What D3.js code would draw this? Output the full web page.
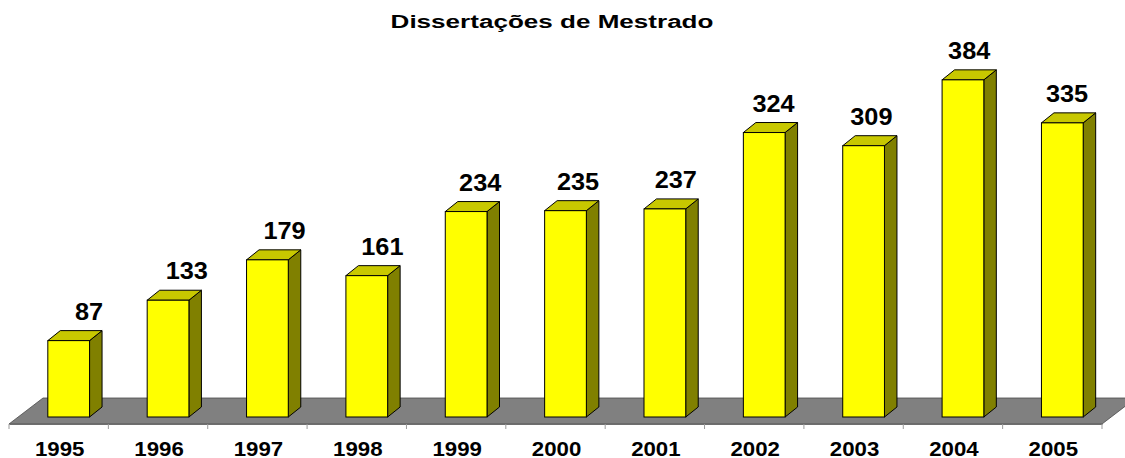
<!DOCTYPE html>
<html>
<head>
<meta charset="utf-8">
<script src="https://cdn.jsdelivr.net/npm/d3@7"></script>
<style>
  body { margin: 0; background: #fff; }
  svg { display: block; font-family: "Liberation Sans", Arial, sans-serif; }
</style>
</head>
<body>
<div id="chart"></div>
<script>
var title = "Dissertações de Mestrado";
var years = ["1995", "1996", "1997", "1998", "1999", "2000", "2001", "2002", "2003", "2004", "2005"];
var counts = [87, 133, 179, 161, 234, 235, 237, 324, 309, 384, 335];

var width = 1125, height = 458;

// floor / 3d geometry
var floorLeft = 9, floorRight = 1102, floorY = 424;
var floorDepth = [34, -26];
var barShift = [10, -7];     // front of bars sits a bit behind floor front edge
var barDepth = [12.5, -10];
var barFrac = 0.42;

var svg = d3.select("#chart")
  .append("svg")
  .attr("width", width)
  .attr("height", height);

var x = d3.scaleBand().domain(years).range([floorLeft, floorRight]);
var y = d3.scaleLinear().domain([0, 400]).range([floorY + barShift[1], floorY + barShift[1] - 351.2]);
// value labels drift slightly left along the row (3d perspective in original)
var labelX = d3.scaleLinear().domain([0, years.length - 1]).range([89, 1067]);

// text in the original is stretched horizontally
function stretchedText(sel, cx, cy, size, sx, str)
{
  var g = sel.append("g")
    .attr("transform", "translate(" + cx + "," + cy + ") scale(" + sx + ",1)");
  return g.append("text")
    .attr("x", 0)
    .attr("y", 0)
    .attr("text-anchor", "middle")
    .attr("font-size", size)
    .attr("font-weight", "bold")
    .text(str);
}

// floor
var floor = [
  [floorLeft, floorY],
  [floorRight, floorY],
  [floorRight + floorDepth[0], floorY + floorDepth[1]],
  [floorLeft + floorDepth[0], floorY + floorDepth[1]]
];
svg.append("path")
  .attr("d", "M" + floor.join("L") + "Z")
  .attr("fill", "#808080")
  .attr("stroke", "#4a4a4a")
  .attr("stroke-width", 0.8);

// axis line + ticks
var axis = svg.append("g")
  .attr("transform", "translate(0," + floorY + ")")
  .call(d3.axisBottom(x).tickSize(0).tickFormat(""));
axis.select(".domain").attr("stroke", "#6e6e6e");
var bounds = years.map(d => x(d)).concat([floorRight]);
svg.selectAll("line.tick")
  .data(bounds)
  .enter()
  .append("line")
  .attr("class", "tick")
  .attr("x1", d => d).attr("x2", d => d)
  .attr("y1", floorY).attr("y2", floorY + 5)
  .attr("stroke", "#9a9a9a")
  .attr("stroke-width", 1);

// year labels
for(var i=0; i<years.length; i++)
  stretchedText(svg, x(years[i]) + x.bandwidth() / 2 + 1, 455.5, 21, 1.06, years[i]);

// bars
var bw = x.bandwidth() * barFrac;
var y0 = y(0);
var bars = svg.selectAll("g.bar")
  .data(counts)
  .enter()
  .append("g")
  .attr("class", "bar");

bars.each(function(v, i){
  var g = d3.select(this);
  var fx = x(years[i]) + (x.bandwidth() - bw) / 2 + barShift[0];
  var top = y(v);
  var dx = barDepth[0], dy = barDepth[1];

  var side = [[fx + bw, top], [fx + bw + dx, top + dy], [fx + bw + dx, y0 + dy], [fx + bw, y0]];
  var lid = [[fx, top], [fx + dx, top + dy], [fx + bw + dx, top + dy], [fx + bw, top]];

  g.append("path")
    .attr("d", "M" + side.join("L") + "Z")
    .attr("fill", "#808000")
    .attr("stroke", "#000")
    .attr("stroke-width", 1)
    .attr("stroke-linejoin", "round");
  g.append("path")
    .attr("d", "M" + lid.join("L") + "Z")
    .attr("fill", "#c8c800")
    .attr("stroke", "#000")
    .attr("stroke-width", 1)
    .attr("stroke-linejoin", "round");
  g.append("rect")
    .attr("x", fx)
    .attr("y", top)
    .attr("width", bw)
    .attr("height", y0 - top)
    .attr("fill", "#ffff00")
    .attr("stroke", "#000")
    .attr("stroke-width", 1);
});

// value labels
for(var i=0; i<counts.length; i++)
  stretchedText(svg, labelX(i), y(counts[i]) - 21, 23, 1.1, counts[i]);

// title, stretched to the original's width
var t = stretchedText(svg, 552, 28.3, 19, 1, title);
var natural = t.node().getComputedTextLength();
d3.select(t.node().parentNode)
  .attr("transform", "translate(552,28.3) scale(" + (323 / natural) + ",1)");
</script>
</body>
</html>
